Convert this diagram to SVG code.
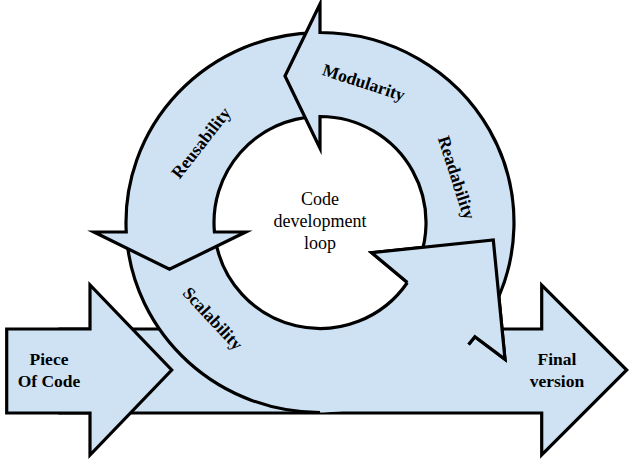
<svg xmlns="http://www.w3.org/2000/svg" width="635" height="464" viewBox="0 0 635 464">
<style>
.s{fill:#cfe2f3;stroke:#000;stroke-width:3.2;stroke-linejoin:miter;stroke-miterlimit:10}
.f{fill:#cfe2f3;stroke:none}
.l{fill:none;stroke:#000;stroke-width:3.2;stroke-linejoin:miter;stroke-miterlimit:10}
.b{font-family:"Liberation Serif","Times New Roman",serif;font-weight:bold;font-size:17.5px;fill:#000;text-anchor:middle}
.r{font-family:"Liberation Serif","Times New Roman",serif;font-size:18px;fill:#000;text-anchor:middle}
</style>
<rect width="635" height="464" fill="#fff"/>
<g id="final-version">
<path class="s" d="M60,329 L541.7,329 L541.7,285 L626.7,370 L541.7,455 L541.7,413 L60,413 Z"/>
</g>
<g id="piece-of-code">
<path class="s" d="M6.7,329 L90,329 L90,285 L171.7,370 L90,455 L90,413 L6.7,413 Z"/>
<text class="b" x="49" y="365">Piece</text>
<text class="b" x="49" y="387">Of Code</text>
</g>
<g id="loop-scalability">
<path class="f" d="M126.65,238 A194 190 0 0 0 474.9,336.8 L505,359.3 L493.3,240 L371.7,252.7 L407.4,282.5 A106 106 0 0 1 215.14,238 Z"/>
<path class="l" d="M126.65,238 A194 190 0 0 0 320,412.5"/>
<path class="l" d="M215.14,238 A106 106 0 0 0 407.4,282.5 L371.7,252.7 L493.3,240 L505,359.3 L474.9,336.8 L468.6,344.6"/>
</g>
<g id="loop-reusability">
<path class="s" d="M316,32.54 A194 190 0 0 0 126.24,232 L94,232 L169.5,269.3 L245.7,232 L214.43,232 A106 106 0 0 1 316,116.58 Z"/>
</g>
<g id="loop-modularity">
<path class="s" d="M409.9,278.7 A106 106 0 0 0 320,116.5 L320,148.3 L285,76 L320,4 L320,32.5 A194 190 0 0 1 484.5,323.2 Z"/>
</g>
<g id="loop-scalability-head">
<path class="s" d="M407.4,282.5 L371.7,252.7 L493.3,240 L505,359.3 L474.9,336.8 L468.6,344.6"/>
</g>
<g id="labels">
<text class="b" x="557" y="365">Final</text>
<text class="b" x="557" y="387">version</text>
<text class="b" transform="translate(362,88) rotate(18)">Modularity</text>
<text class="b" transform="translate(451,179.5) rotate(72)">Readability</text>
<text class="b" transform="translate(205.5,146.5) rotate(-52)">Reusability</text>
<text class="b" transform="translate(208.5,322.5) rotate(47)">Scalability</text>
</g>
<g id="center-label">
<text class="r" x="320" y="205">Code</text>
<text class="r" x="320" y="227">development</text>
<text class="r" x="320" y="249">loop</text>
</g>
</svg>
